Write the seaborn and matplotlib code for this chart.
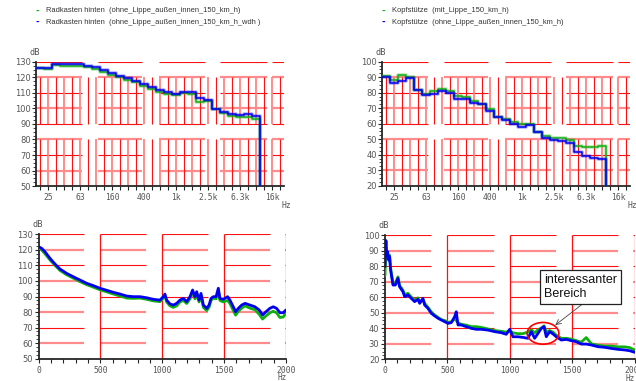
import numpy as np
import pandas as pd
import matplotlib
matplotlib.use("Agg")
import matplotlib.pyplot as plt
from matplotlib.patches import Ellipse
import seaborn as sns

# Terzbaender 20 Hz .. 20 kHz (31 Baender), Werte nur bis 10 kHz
BAENDER = ['20', '25', '31.5', '40', '50', '63', '80', '100', '125', '160', '200',
           '250', '315', '400', '500', '630', '800', '1k', '1.25k', '1.6k', '2k',
           '2.5k', '3.15k', '4k', '5k', '6.3k', '8k', '10k', '12.5k', '16k', '20k']
BAND_LABELS = {1: '25', 5: '63', 9: '160', 13: '400', 17: '1k', 21: '2.5k', 25: '6.3k', 29: '16k'}

# Radkasten hinten (Terz), dB
rad_ohne = [126.0, 125.5, 128.0, 127.6, 127.3, 127.3, 126.5, 125.5, 123.5, 121.8,
            120.0, 118.3, 116.8, 114.8, 112.8, 110.8, 109.5, 108.8, 110.0, 109.5,
            104.0, 105.0, 99.4, 97.3, 95.2, 94.4, 94.4, 93.2]
rad_wdh = [126.3, 126.3, 128.5, 128.5, 128.5, 128.5, 127.4, 126.5, 124.6, 122.9,
           121.0, 119.4, 117.7, 115.8, 113.6, 111.9, 110.4, 109.5, 110.4, 110.4,
           106.5, 105.2, 99.6, 97.9, 96.4, 95.7, 96.2, 95.1]

# Kopfstuetze (Terz), dB
kopf_mit = [90.8, 88.0, 91.6, 90.3, 81.5, 79.1, 81.0, 82.6, 81.3, 77.6,
            77.4, 74.8, 72.9, 69.2, 64.5, 63.2, 61.1, 59.8, 59.6, 54.6,
            52.0, 50.8, 50.5, 49.2, 45.6, 44.7, 44.7, 45.8]
kopf_ohne = [89.9, 86.2, 87.3, 89.2, 81.5, 78.5, 79.1, 80.9, 79.8, 75.9,
             75.9, 73.5, 72.5, 68.4, 64.3, 62.4, 60.0, 58.1, 59.1, 54.4,
             50.8, 49.2, 48.6, 47.7, 41.9, 39.1, 37.8, 37.2]

# Schmalband Radkasten, Hz / dB
f_rad = [0, 24, 51, 92, 132, 172, 226, 280, 334, 388, 442, 496, 550, 604, 658, 712,
         766, 819, 873, 927, 981, 1008, 1021, 1035, 1062, 1089, 1116, 1143, 1170, 1197,
         1224, 1245, 1264, 1278, 1297, 1313, 1332, 1359, 1378, 1394, 1413, 1435, 1453,
         1466, 1493, 1528, 1547, 1574, 1593, 1615, 1642, 1669, 1709, 1749, 1784, 1811,
         1838, 1870, 1897, 1924, 1951, 1978, 2000]
nb_rad_wdh = [122, 121, 118.8, 114.5, 110.9, 107.7, 104.9, 102.7, 100.6, 98.5, 97, 95.3,
              94, 92.7, 91.6, 90.3, 89.9, 89.9, 89.2, 88.2, 87.7, 89.9, 91.6, 87.7, 85.2,
              84.5, 85.6, 87.7, 88.8, 86.7, 89.9, 94.2, 89.9, 93.1, 87.7, 92, 84.5, 82.4,
              84.5, 88.8, 89.9, 89.9, 95.3, 88.8, 88.2, 89.9, 87.7, 83.4, 80.2, 82.4, 84.5,
              85.6, 84.5, 83.4, 81.3, 78.1, 80.2, 82.4, 83.4, 82.4, 79.6, 79.6, 81.3]
nb_rad_ohne = [121.5, 120, 117.5, 113.5, 110, 106.8, 104, 101.8, 99.6, 97.6, 96, 94.3,
               93, 91.6, 90.3, 89, 88.8, 89, 88.2, 87.2, 86.7, 89, 90.5, 86.5, 84,
               83, 84, 86.5, 87.5, 85.5, 88.5, 93, 88.5, 91.5, 86.5, 90.5, 83, 81,
               83, 87.5, 89, 88.5, 94, 87.5, 86.5, 87.5, 85.5, 81, 78, 80.5, 82.5,
               84, 82.5, 81.5, 78.5, 75.5, 77.5, 79.5, 80.5, 79.5, 76.5, 76.8, 79.5]

# Schmalband Kopfstuetze, Hz / dB
f_kopf = [0, 8, 13, 21, 29, 37, 45, 56, 64, 83, 104, 117, 144, 158, 184, 211, 238, 264,
          278, 304, 318, 344, 371, 398, 425, 451, 478, 505, 531, 558, 571, 585, 611, 651,
          692, 732, 772, 825, 878, 932, 972, 999, 1025, 1065, 1105, 1145, 1172, 1199,
          1226, 1252, 1274, 1292, 1319, 1346, 1372, 1412, 1452, 1492, 1532, 1572, 1612,
          1653, 1706, 1760, 1813, 1866, 1920, 1960, 2000]
nb_kopf_ohne = [79.6, 96.4, 87.1, 89.3, 83.9, 86, 77.5, 72, 67.8, 67.8, 72.1, 66.7, 63.5,
                60.3, 61.4, 59.2, 57.1, 58.6, 56, 59.2, 54.9, 52.8, 49.6, 47.9, 46.4, 45.3,
                44.2, 43.1, 43.6, 47.4, 50.6, 42.1, 42.1, 41, 39.9, 39.3, 39.3, 38.8, 37.8,
                37.1, 36.1, 39.3, 34.5, 34.5, 34.1, 33.5, 37.8, 33.5, 36.7, 39.9, 41, 34.5,
                37.8, 36.3, 34.5, 32.4, 32.8, 32, 31.3, 29.8, 29.8, 29.2, 28.1, 27.7, 27,
                26.4, 26, 25.5, 24.5]
nb_kopf_mit = [74, 92, 86, 88, 85, 87, 79, 73, 69, 69, 73, 67.5, 64.5, 61.5, 62.5, 60, 58,
               59.5, 57, 58.5, 56, 53.5, 50.5, 48.5, 47, 45.5, 45, 43.8, 44, 46, 45, 43.5,
               42.5, 42, 41, 41, 40.5, 39.5, 38.5, 38, 37.5, 38.5, 37, 36.5, 36.5, 37.5,
               39, 37, 39, 40, 41.5, 37.5, 38.5, 37.5, 35.5, 33.5, 33.5, 33, 32, 31, 34,
               30, 29, 28.5, 28.5, 28, 28, 27.5, 26]

GRUEN = '#10b010'
BLAU = '#0000f0'
GRAU = '#555555'

sns.set_style("white")
plt.rcParams['font.family'] = ['DejaVu Sans']
MONO = 'DejaVu Sans Mono'


def raster(ax, y_lo, y_hi, x_bloecke, y_bloecke, x_linien):
    # rotes, stueckweise gezeichnetes Gitter wie im Original
    for k, y in enumerate(np.arange(y_hi, y_lo, -10)):
        farbe, lw = ('#ff1010', 0.8) if k % 2 == 0 else ('#ff8c8c', 1.6)
        for a, b in x_bloecke:
            ax.hlines(y, a, b, colors=farbe, lw=lw, zorder=1)
    for k, x in enumerate(x_linien):
        farbe, lw = ('#ff1010', 0.8) if k % 2 == 0 else ('#ff8c8c', 1.4)
        for a, b in y_bloecke:
            ax.vlines(x, a, b, colors=farbe, lw=lw, zorder=1)


def achsen(ax, y_lo, y_hi):
    sns.despine(ax=ax)
    ax.spines['left'].set_linewidth(1.3)
    ax.spines['bottom'].set_linewidth(1.3)
    ax.set_ylim(y_lo, y_hi)
    ax.set_yticks(np.arange(y_lo, y_hi + 1, 10))
    ax.set_yticks(np.arange(y_lo, y_hi, 2.5), minor=True)
    ax.tick_params(axis='y', which='major', direction='out', length=3, width=0.8,
                   labelsize=6, labelcolor=GRAU, pad=1, left=True)
    ax.tick_params(axis='y', which='minor', direction='out', length=2, width=0.6, left=True)
    ax.tick_params(axis='x', which='both', direction='out', length=3, width=0.8,
                   labelsize=5.8, labelcolor=GRAU, pad=2, bottom=True)
    for t in ax.get_xticklabels():
        t.set_family(MONO)
    ax.set_xlabel('')
    ax.set_ylabel('')
    ax.text(-0.005, 1.075, 'dB', transform=ax.transAxes, ha='center', va='center',
            fontsize=6.2, color=GRAU, family=MONO)


def terz(ax, werte_g, werte_b, y_lo, y_hi, y_bloecke):
    n = len(werte_g)
    x = list(range(n + 1)) + [n]
    for werte, farbe in [(werte_g, GRUEN), (werte_b, BLAU)]:
        df = pd.DataFrame({'band': x, 'pegel': list(werte) + [werte[-1], y_lo]})
        # heller Saum + eigentliche Linie
        sns.lineplot(data=df, x='band', y='pegel', ax=ax, color=farbe, lw=2.6, alpha=0.3,
                     drawstyle='steps-post', estimator=None, sort=False, zorder=3)
        sns.lineplot(data=df, x='band', y='pegel', ax=ax, color=farbe, lw=1.1,
                     drawstyle='steps-post', estimator=None, sort=False, zorder=3)
    ax.set_xlim(0, len(BAENDER))
    mitten = np.arange(len(BAENDER)) + 0.5
    raster(ax, y_lo, y_hi, [(0, 5.7), (7.7, 13.2), (15.3, 21.1), (23, 28.8), (29.5, 31)],
           y_bloecke, mitten)
    ax.set_xticks(mitten)
    ax.set_xticklabels([BAND_LABELS.get(i, '') for i in range(len(BAENDER))])
    achsen(ax, y_lo, y_hi)
    ax.text(0.99, -0.12, 'Hz', transform=ax.transAxes, ha='left', va='top',
            fontsize=5.8, color=GRAU, family=MONO)


def schmal(ax, f, werte_g, werte_b, y_lo, y_hi):
    raster(ax, y_lo, y_hi, [(0, 370), (500, 870), (1000, 1370), (1500, 1870), (1990, 2000)],
           [(y_lo, y_hi)], [])
    ax.vlines([500, 1000, 1500, 2000], y_lo, y_hi, colors='#ff1010', lw=0.9, zorder=1)
    df = pd.DataFrame({'f': f, 'gruen': werte_g, 'blau': werte_b})
    sns.lineplot(data=df, x='f', y='gruen', ax=ax, color=GRUEN, lw=2.0,
                 estimator=None, sort=False, zorder=3)
    sns.lineplot(data=df, x='f', y='blau', ax=ax, color=BLAU, lw=2.0,
                 estimator=None, sort=False, zorder=4)
    ax.set_xlim(0, 2000)
    ax.set_xticks([0, 500, 1000, 1500, 2000])
    ax.set_xticks(np.arange(0, 2001, 100), minor=True)
    achsen(ax, y_lo, y_hi)
    ax.text(0.965, -0.118, 'Hz', transform=ax.transAxes, ha='left', va='top',
            fontsize=5.5, color=GRAU, family=MONO)


fig = plt.figure(figsize=(6.36, 3.81), dpi=100)
ax1 = fig.add_axes([0.0571, 0.5118, 0.3899, 0.3255])
ax2 = fig.add_axes([0.6011, 0.5126, 0.3899, 0.3255])
ax3 = fig.add_axes([0.0608, 0.0585, 0.3888, 0.3265])
ax4 = fig.add_axes([0.6053, 0.0570, 0.3926, 0.3262])

terz(ax1, rad_ohne, rad_wdh, 50, 130, [(90, 120), (50, 80)])
terz(ax2, kopf_mit, kopf_ohne, 20, 100, [(60, 90), (20, 50)])
schmal(ax3, f_rad, nb_rad_ohne, nb_rad_wdh, 50, 130)
schmal(ax4, f_kopf, nb_kopf_mit, nb_kopf_ohne, 20, 100)

# Legenden oben
legenden = [
    (36, 46, ['Radkasten hinten  (ohne_Lippe_außen_innen_150_km_h)',
              'Radkasten hinten  (ohne_Lippe_außen_innen_150_km_h_wdh )']),
    (382, 392, ['Kopfstütze  (mit_Lippe_150_km_h)',
                'Kopfstütze  (ohne_Lippe_außen_innen_150_km_h)']),
]
for x_strich, x_text, texte in legenden:
    for y_px, text, farbe in zip([11, 22], texte, [GRUEN, BLAU]):
        fig.text(x_strich / 636, 1 - y_px / 381, '-', color=farbe, fontsize=6,
                 fontweight='bold', va='center')
        fig.text(x_text / 636, 1 - y_px / 381, text, color='#333333', fontsize=5.4,
                 family='Liberation Sans', va='center')

# Markierung im Kopfstuetzen-Schmalband
ax4.add_patch(Ellipse((1266, 36.7), 254, 14, fill=False, edgecolor='#ff0000', lw=1.2, zorder=5))
ax4.annotate('interessanter\nBereich', xy=(1364, 42), xytext=(1566, 66.5),
             ha='center', va='center', multialignment='left', fontsize=9,
             family='Liberation Sans', color='#111111', zorder=6,
             bbox=dict(boxstyle='square,pad=0.35', fc='white', ec='#222222', lw=0.9),
             arrowprops=dict(arrowstyle='->', color='#444444', lw=0.6,
                             relpos=(0.6, 0.0), shrinkA=0, shrinkB=0))

fig.savefig('out.png', dpi=100)
